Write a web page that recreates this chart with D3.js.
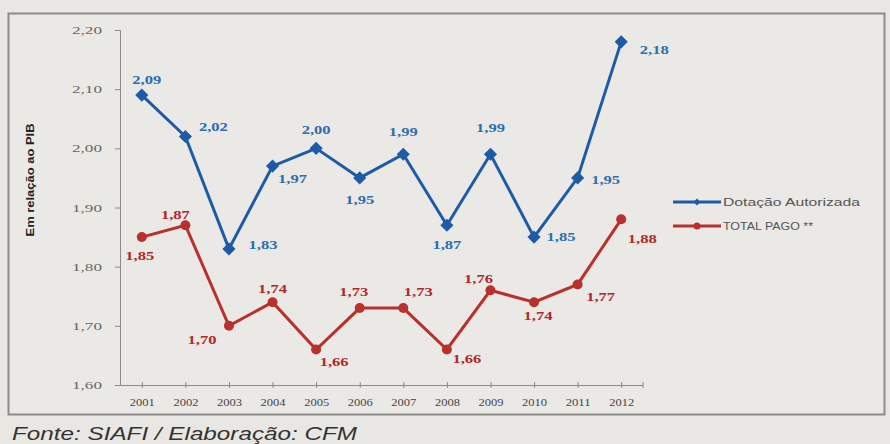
<!DOCTYPE html>
<html>
<head>
<meta charset="utf-8">
<script src="https://cdn.jsdelivr.net/npm/d3@7"></script>
<style>
  body { margin: 0; background: #e9e7e4; }
  svg { display: block; }
</style>
</head>
<body>
<svg id="chart"></svg>
<script>
// data
var years = ["2001","2002","2003","2004","2005","2006","2007","2008","2009","2010","2011","2012"];
var dotacao = [2.09, 2.02, 1.83, 1.97, 2.00, 1.95, 1.99, 1.87, 1.99, 1.85, 1.95, 2.18];
var pago = [1.85, 1.87, 1.70, 1.74, 1.66, 1.73, 1.73, 1.66, 1.76, 1.74, 1.77, 1.88];
var yTicks = [1.60, 1.70, 1.80, 1.90, 2.00, 2.10, 2.20];
var seriesNames = ["Dotação Autorizada", "TOTAL PAGO **"];

// label placement (offsets from point)
var dotacaoPos = [[5,-15],[28,-10],[34,-4],[20,13],[0,-18],[0,22],[0,-22],[0,20],[0,-26],[27,0],[28,2],[33,8]];
var pagoPos = [[-2,19],[-10,-10],[-27,14],[0,-13],[18,12],[-6,-16],[15,-16],[20,9],[-12,-11],[4,14],[23,13],[21,20]];

var width = 890, height = 444;
var svg = d3.select("#chart").attr("width", width).attr("height", height);

// frame
svg.append("rect")
    .attr("x", 8.5).attr("y", 13.5)
    .attr("width", 876).attr("height", 401)
    .attr("fill", "#ebe9e6")
    .attr("stroke", "#8e8c88")
    .attr("stroke-width", 2);

var x = d3.scalePoint().domain(years).range([120, 643]).padding(0.5);
var y = d3.scaleLinear().domain([1.60, 2.20]).range([385, 30]);
var fmt = function(v) { return d3.format(".2f")(v).replace(".", ","); };

// y axis
var yAxis = svg.append("g")
    .attr("transform", "translate(120,0)")
    .call(d3.axisLeft(y).tickValues(yTicks).tickSize(5).tickFormat(fmt));
yAxis.select(".domain").attr("stroke", "#8a8a8a");
yAxis.selectAll(".tick line").attr("stroke", "#8a8a8a");
yAxis.selectAll("text")
    .attr("x", -18)
    .attr("fill", "#666")
    .attr("textLength", 30)
    .attr("lengthAdjust", "spacingAndGlyphs")
    .style("font-family", "Liberation Serif")
    .style("font-size", "11px");

// x axis
var xAxis = svg.append("g")
    .attr("transform", "translate(0,385)")
    .call(d3.axisBottom(x).tickSizeInner(3).tickSizeOuter(0).tickPadding(10));
xAxis.select(".domain").attr("stroke", "#8a8a8a");
xAxis.selectAll(".tick line").attr("stroke", "#8a8a8a").attr("y1", -3);
xAxis.selectAll("text")
    .attr("fill", "#444")
    .attr("textLength", 25)
    .attr("lengthAdjust", "spacingAndGlyphs")
    .style("font-family", "Liberation Serif")
    .style("font-size", "11px");
svg.append("line")
    .attr("x1", 643).attr("x2", 643).attr("y1", 382).attr("y2", 388)
    .attr("stroke", "#8a8a8a");

// axis title
svg.append("text")
    .attr("transform", "translate(34,180) rotate(-90)")
    .attr("text-anchor", "middle")
    .attr("textLength", 113)
    .attr("lengthAdjust", "spacingAndGlyphs")
    .style("font-family", "Liberation Sans")
    .style("font-weight", "bold")
    .style("font-size", "11px")
    .attr("fill", "#222")
    .text("Em relação ao PIB");

var line = d3.line().x((d, i) => x(years[i])).y(d => y(d));

var blue = "#1d5ba6", red = "#b9302c";

// series lines
svg.append("path").datum(dotacao)
    .attr("d", line).attr("fill", "none")
    .attr("stroke", blue).attr("stroke-width", 3);
svg.append("path").datum(pago)
    .attr("d", line).attr("fill", "none")
    .attr("stroke", red).attr("stroke-width", 3);

// markers
svg.selectAll(".dmark").data(dotacao).enter().append("path")
    .attr("class", "dmark")
    .attr("d", d3.symbol().type(d3.symbolDiamond2).size(110))
    .attr("transform", (d, i) => "translate(" + x(years[i]) + "," + y(d) + ")")
    .attr("fill", blue);
svg.selectAll(".pmark").data(pago).enter().append("circle")
    .attr("class", "pmark")
    .attr("cx", (d, i) => x(years[i]))
    .attr("cy", d => y(d))
    .attr("r", 5)
    .attr("fill", red);

// value labels
function valueLabels(cls, data, pos, color) {
  svg.selectAll("." + cls).data(data).enter().append("text")
    .attr("class", cls)
    .attr("x", (d, i) => x(years[i]) + pos[i][0])
    .attr("y", (d, i) => y(d) + pos[i][1] + 4)
    .attr("text-anchor", "middle")
    .attr("fill", color)
    .attr("textLength", 29)
    .attr("lengthAdjust", "spacingAndGlyphs")
    .style("font-family", "Liberation Serif")
    .style("font-weight", "bold")
    .style("font-size", "12px")
    .text(d => fmt(d));
}
valueLabels("dlab", dotacao, dotacaoPos, "#2d6fb0");
valueLabels("plab", pago, pagoPos, "#b3282a");

// legend
var legendLen = [137, 90];
var legend = svg.append("g").attr("transform", "translate(673,202)");
[blue, red].forEach(function(c, i) {
  var g = legend.append("g").attr("transform", "translate(0," + (i * 24) + ")");
  g.append("line").attr("x1", 0).attr("x2", 48).attr("stroke", c).attr("stroke-width", 3);
  if (i == 0) {
    g.append("path").attr("d", d3.symbol().type(d3.symbolDiamond2).size(30))
      .attr("transform", "translate(24,0)").attr("fill", c);
  } else {
    g.append("circle").attr("cx", 24).attr("r", 3.5).attr("fill", c);
  }
  g.append("text")
    .attr("x", 50).attr("y", 4)
    .attr("fill", "#555")
    .attr("textLength", legendLen[i])
    .attr("lengthAdjust", "spacingAndGlyphs")
    .style("font-family", "Liberation Sans")
    .style("font-size", "11px")
    .text(seriesNames[i]);
});

// source
svg.append("text")
    .attr("x", 12).attr("y", 440)
    .attr("fill", "#333")
    .attr("textLength", 345)
    .attr("lengthAdjust", "spacingAndGlyphs")
    .style("font-family", "Liberation Sans")
    .style("font-style", "italic")
    .style("font-size", "19px")
    .text("Fonte: SIAFI / Elaboração: CFM");
</script>
</body>
</html>
